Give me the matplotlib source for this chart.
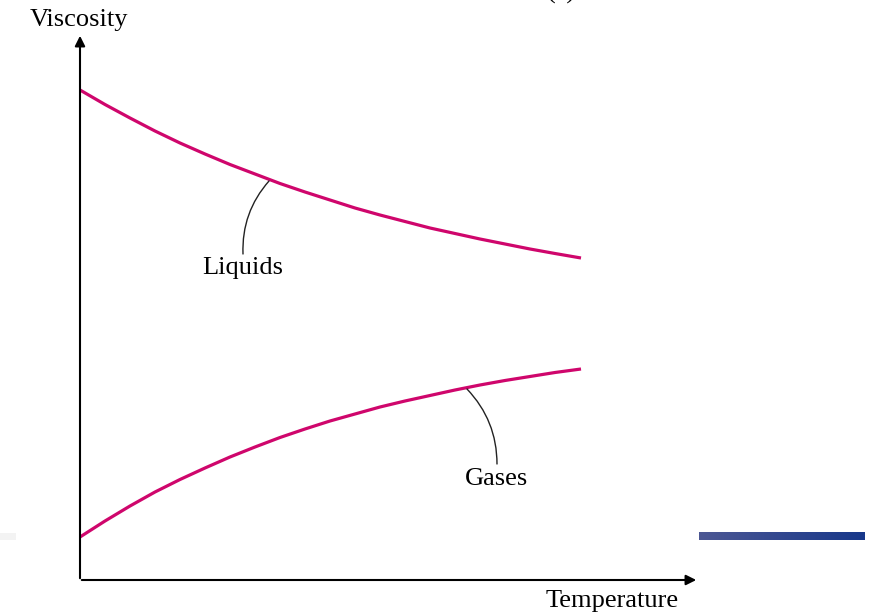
import numpy as np
import matplotlib.pyplot as plt
from matplotlib.colors import LinearSegmentedColormap

# дані кривих (x - температура, y - в'язкість), координати
temp = [80, 105, 130, 155, 180, 205, 230, 255, 280, 305, 330,
        355, 380, 405, 430, 455, 480, 505, 530, 555, 581]
liquids = [90, 104.5, 118, 131, 143, 154, 164.5, 174, 183.5, 192, 200,
           208, 215, 221.5, 228, 233.5, 239, 244, 249, 253.5, 258]
gases = [537, 521, 506, 492, 479.5, 468, 457, 447, 437.5, 429, 421,
         414, 407, 401, 395.5, 390, 385, 380.5, 376.5, 372.5, 369]

x_label = 'Temperature'
y_label = 'Viscosity'
curve_labels = ['Liquids', 'Gases']

curve_color = '#cf066c'
serif = ['Liberation Serif', 'DejaVu Serif']
fs = 19

fig = plt.figure(figsize=(8.7, 6.12), dpi=100)
ax = fig.add_axes([0, 0, 1, 1])
ax.set_xlim(0, 870)
ax.set_ylim(612, 0)
ax.axis('off')

# осі зі стрілками
ax.annotate('', xy=(80, 33), xytext=(80, 581),
            arrowprops=dict(arrowstyle='-|>', color='black', lw=1.5, mutation_scale=15))
ax.annotate('', xy=(699, 580), xytext=(79, 580),
            arrowprops=dict(arrowstyle='-|>', color='black', lw=1.5, mutation_scale=15))

ax.text(79, 20, y_label, fontsize=fs, family=serif, ha='center', va='center')
ax.text(612, 601, x_label, fontsize=fs, family=serif, ha='center', va='center')
# підпис зверху майже повністю обрізаний краєм рисунка
ax.text(561, -1, '(a)', fontsize=fs, family=serif, ha='center', va='baseline')

# криві
ax.plot(temp, liquids, color=curve_color, lw=2.3, solid_capstyle='butt')
ax.plot(temp, gases, color=curve_color, lw=2.3, solid_capstyle='butt')

# виноски
ax.annotate('', xy=(269, 181), xytext=(243, 254),
            arrowprops=dict(arrowstyle='-', color='#222222', lw=1.0,
                            shrinkA=0, shrinkB=0,
                            connectionstyle='arc3,rad=-0.2'))
ax.text(243, 268, curve_labels[0], fontsize=fs, family=serif, ha='center', va='center')
ax.annotate('', xy=(467, 389), xytext=(497, 464),
            arrowprops=dict(arrowstyle='-', color='#222222', lw=1.0,
                            shrinkA=0, shrinkB=0,
                            connectionstyle='arc3,rad=0.2'))
ax.text(497, 479, curve_labels[1], fontsize=fs, family=serif, ha='center', va='center')

# синя смуга праворуч
grad = np.linspace(0, 1, 256).reshape(1, -1)
cmap = LinearSegmentedColormap.from_list('bar', ['#4d5894', '#17378a'])
ax.imshow(grad, extent=(699, 865, 540, 532), cmap=cmap, aspect='auto', zorder=1)
ax.add_patch(plt.Rectangle((0, 533), 16, 7, color='#f3f3f3', lw=0))
ax.set_xlim(0, 870)
ax.set_ylim(612, 0)

fig.savefig('out.png', dpi=100)
